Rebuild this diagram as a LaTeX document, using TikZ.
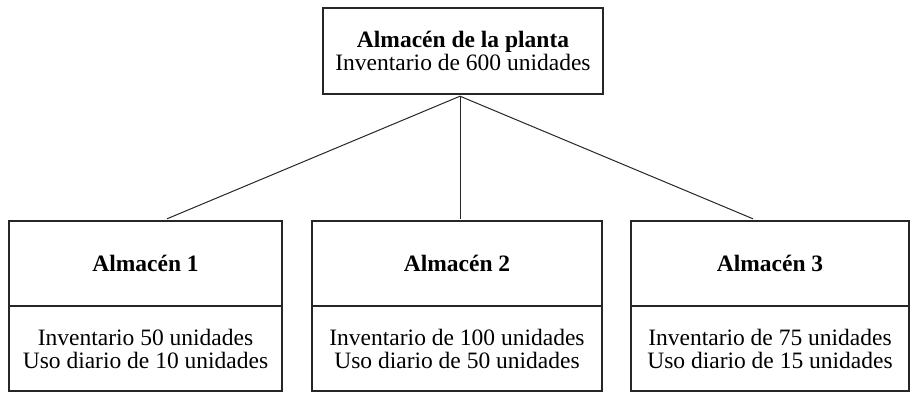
\documentclass[tikz,border=0pt]{standalone}
\usepackage{fontspec}
\setmainfont{Liberation Serif}
\begin{document}
\begin{tikzpicture}[x=1pt,y=-1pt,
  boxpart/.style={draw=black!85, line width=2.2pt, rectangle, inner sep=0pt, align=center,
    font=\fontsize{23.5}{23}\selectfont},
  link/.style={draw=black!85, line width=1pt}]
\useasboundingbox (0,0) rectangle (913,394);
% top box
\node[boxpart, minimum width=280pt, minimum height=86pt] (top) at (463,51)
  {\textbf{Almacén de la planta}\\Inventario de 600 unidades};
% warehouse 1
\node[boxpart, minimum width=273pt, minimum height=85pt] (w1t) at (145.5,263.5) {\textbf{Almacén 1}};
\node[boxpart, minimum width=273pt, minimum height=85pt] (w1b) at (145.5,348.5)
  {Inventario 50 unidades\\Uso diario de 10 unidades};
% warehouse 2
\node[boxpart, minimum width=290pt, minimum height=85pt] (w2t) at (457,263.5) {\textbf{Almacén 2}};
\node[boxpart, minimum width=290pt, minimum height=85pt] (w2b) at (457,348.5)
  {Inventario de 100 unidades\\Uso diario de 50 unidades};
% warehouse 3
\node[boxpart, minimum width=278pt, minimum height=85pt] (w3t) at (770,263.5) {\textbf{Almacén 3}};
\node[boxpart, minimum width=278pt, minimum height=85pt] (w3b) at (770,348.5)
  {Inventario de 75 unidades\\Uso diario de 15 unidades};
% connectors
\coordinate (apex) at ([xshift=-3pt,yshift=-1.1pt]top.south);
\draw[link] (apex) -- ([xshift=21.5pt,yshift=1.1pt]w1t.north);
\draw[link] (apex) -- ([xshift=3pt,yshift=1.1pt]w2t.north);
\draw[link] (apex) -- ([xshift=-17pt,yshift=1.1pt]w3t.north);
\end{tikzpicture}
\end{document}
